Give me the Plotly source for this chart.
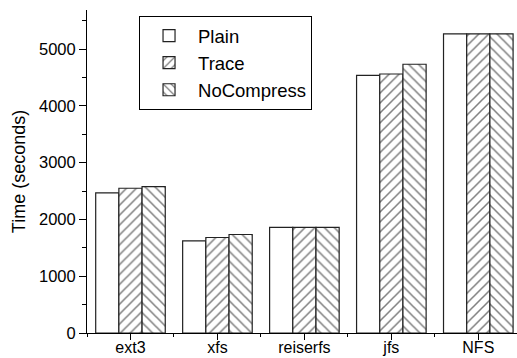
import plotly.graph_objects as go

categories = ["ext3", "xfs", "reiserfs", "jfs", "NFS"]
plain = [2470, 1622, 1860, 4540, 5270]
trace = [2550, 1682, 1860, 4563, 5270]
nocompress = [2580, 1735, 1860, 4734, 5270]

series = [
    ("Plain", plain, ""),
    ("Trace", trace, "/"),
    ("NoCompress", nocompress, "\\"),
]

xpos = list(range(len(categories)))
font = "Liberation Sans, Arial, sans-serif"

fig = go.Figure()
for name, vals, shape in series:
    fig.add_trace(go.Bar(
        name=name, x=xpos, y=vals,
        marker=dict(
            color="white",
            line=dict(color="#222", width=1.2),
            pattern=dict(shape=shape, fgcolor="black", bgcolor="white",
                         size=7, solidity=0.22),
        ),
    ))

fig.update_layout(
    width=517, height=358,
    margin=dict(l=87, r=0, t=10, b=25),
    paper_bgcolor="white", plot_bgcolor="white",
    barmode="group", bargap=0.2, bargroupgap=0,
    font=dict(family=font, color="black", size=16),
    showlegend=True,
    legend=dict(
        x=0.121, y=0.981, xanchor="left", yanchor="top",
        bordercolor="black", borderwidth=1, bgcolor="white",
        font=dict(size=18.5), itemwidth=48, tracegroupgap=0,
    ),
)
fig.update_xaxes(
    range=[-0.5, 4.445], tickmode="array", tickvals=xpos, ticktext=categories,
    showline=True, linecolor="black", linewidth=1, automargin=False,
    ticks="outside", ticklen=6, tickcolor="black", tickfont=dict(size=16),
    ticklabelstandoff=-6,
    showgrid=False, zeroline=False,
    minor=dict(tick0=0.5, dtick=1, ticks="outside", ticklen=3, tickcolor="black", showgrid=False),
)
fig.update_yaxes(
    range=[0, 5690], dtick=1000, tick0=0,
    showline=True, linecolor="black", linewidth=1, automargin=False,
    ticks="outside", ticklen=7, tickcolor="black", tickfont=dict(size=16.5),
    showgrid=False, zeroline=False,
    title=dict(text="Time (seconds)", font=dict(size=18), standoff=8),
    minor=dict(dtick=500, ticks="outside", ticklen=4, tickcolor="black", showgrid=False),
)

fig.write_html(
    "out.html",
    config={"displayModeBar": False},
    post_script="document.body.style.margin='0';document.body.style.overflow='hidden';",
)
